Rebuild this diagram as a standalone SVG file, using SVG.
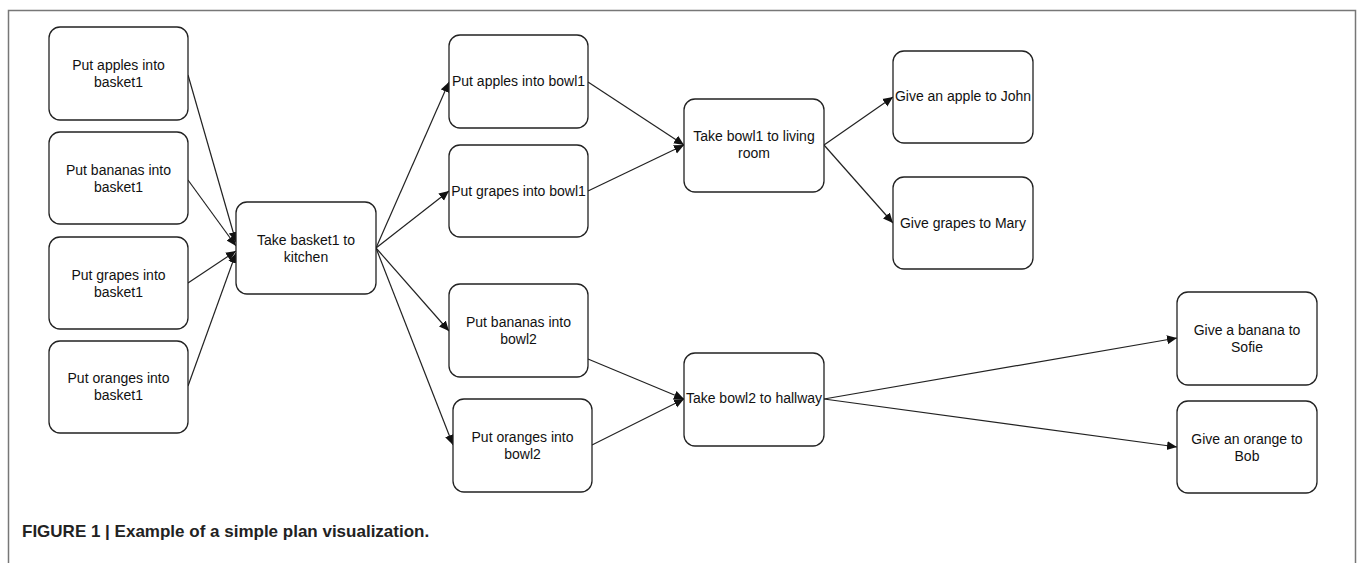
<svg xmlns="http://www.w3.org/2000/svg" width="1357" height="563" viewBox="0 0 1357 563">
<style>
.n rect{fill:#fff;stroke:#222;stroke-width:1.3}
.n text{font-family:"Liberation Sans",Arial,sans-serif;font-size:14px;fill:#111;text-anchor:middle}
.e line{stroke:#222;stroke-width:1.2;marker-end:url(#ah)}
.cap{font-family:"Liberation Sans",Arial,sans-serif;font-size:17px;font-weight:bold;fill:#222}
</style>
<defs>
<marker id="ah" viewBox="0 0 10 10" refX="10" refY="5" markerWidth="10" markerHeight="10" markerUnits="userSpaceOnUse" orient="auto">
<path d="M0,0.5 L10,5 L0,9.5 z" fill="#111"/>
</marker>
</defs>
<rect width="1357" height="563" fill="#fff"/>
<path d="M8.5,563 V10.5 H1355.5 V563" fill="none" stroke="#777" stroke-width="1.5"/>
<g class="e" id="connectors">
<line x1="188" y1="75" x2="236" y2="242"/>
<line x1="188" y1="180" x2="236" y2="246"/>
<line x1="188" y1="283" x2="236" y2="251"/>
<line x1="188" y1="386" x2="236" y2="253"/>
<line x1="376" y1="248" x2="449" y2="82"/>
<line x1="376" y1="248" x2="449" y2="191"/>
<line x1="376" y1="248" x2="449" y2="331"/>
<line x1="376" y1="248" x2="453" y2="445"/>
<line x1="588" y1="82" x2="684" y2="145"/>
<line x1="588" y1="191" x2="684" y2="145"/>
<line x1="588" y1="359" x2="684" y2="399"/>
<line x1="592" y1="445" x2="684" y2="399"/>
<line x1="824" y1="145" x2="893" y2="97"/>
<line x1="824" y1="145" x2="893" y2="223"/>
<line x1="824" y1="399" x2="1177" y2="338"/>
<line x1="824" y1="399" x2="1177" y2="447"/>
</g>
<g class="n" id="n_a1"><rect x="49" y="27" width="139" height="93" rx="11"/><text x="118.5" y="70">Put apples into</text><text x="118.5" y="87">basket1</text></g>
<g class="n" id="n_a2"><rect x="49" y="132" width="139" height="92" rx="11"/><text x="118.5" y="175">Put bananas into</text><text x="118.5" y="192">basket1</text></g>
<g class="n" id="n_a3"><rect x="49" y="237" width="139" height="92" rx="11"/><text x="118.5" y="280">Put grapes into</text><text x="118.5" y="297">basket1</text></g>
<g class="n" id="n_a4"><rect x="49" y="341" width="139" height="92" rx="11"/><text x="118.5" y="383">Put oranges into</text><text x="118.5" y="400">basket1</text></g>
<g class="n" id="n_k"><rect x="236" y="202" width="140" height="92" rx="11"/><text x="306" y="245">Take basket1 to</text><text x="306" y="262">kitchen</text></g>
<g class="n" id="n_b1"><rect x="449" y="35" width="139" height="93" rx="11"/><text x="518.5" y="86">Put apples into bowl1</text></g>
<g class="n" id="n_b2"><rect x="449" y="145" width="139" height="92" rx="11"/><text x="518.5" y="196">Put grapes into bowl1</text></g>
<g class="n" id="n_b3"><rect x="449" y="284" width="139" height="93" rx="11"/><text x="518.5" y="327">Put bananas into</text><text x="518.5" y="344">bowl2</text></g>
<g class="n" id="n_b4"><rect x="453" y="399" width="139" height="93" rx="11"/><text x="522.5" y="442">Put oranges into</text><text x="522.5" y="459">bowl2</text></g>
<g class="n" id="n_l"><rect x="684" y="99" width="140" height="93" rx="11"/><text x="754" y="141">Take bowl1 to living</text><text x="754" y="158">room</text></g>
<g class="n" id="n_h"><rect x="684" y="353" width="140" height="93" rx="11"/><text x="754" y="403">Take bowl2 to hallway</text></g>
<g class="n" id="n_j"><rect x="893" y="51" width="140" height="92" rx="11"/><text x="963" y="101">Give an apple to John</text></g>
<g class="n" id="n_m"><rect x="893" y="177" width="140" height="92" rx="11"/><text x="963" y="228">Give grapes to Mary</text></g>
<g class="n" id="n_s"><rect x="1177" y="292" width="140" height="93" rx="11"/><text x="1247" y="335">Give a banana to</text><text x="1247" y="352">Sofie</text></g>
<g class="n" id="n_bob"><rect x="1177" y="401" width="140" height="92" rx="11"/><text x="1247" y="444">Give an orange to</text><text x="1247" y="461">Bob</text></g>
<text class="cap" x="22" y="537">FIGURE 1 | Example of a simple plan visualization.</text>
</svg>
